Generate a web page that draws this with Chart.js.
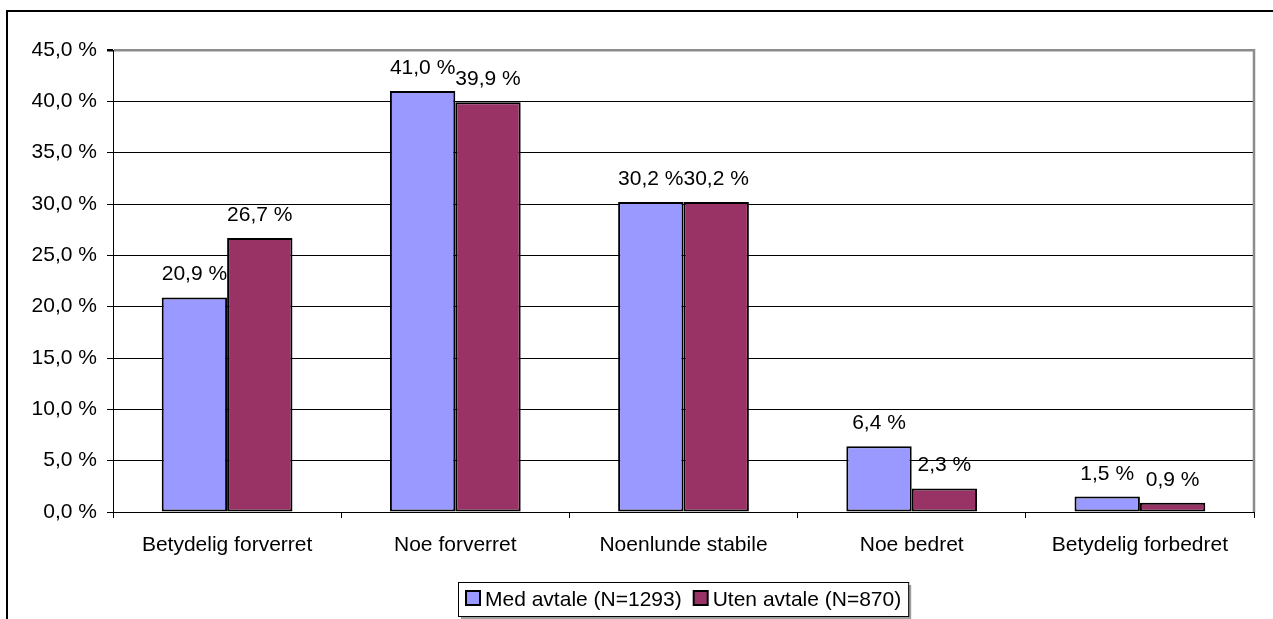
<!DOCTYPE html>
<html>
<head>
<meta charset="utf-8">
<script src="https://cdn.jsdelivr.net/npm/chart.js@4"></script>
<style>
  html, body { margin: 0; padding: 0; background: #fff; }
  canvas { display: block; }
</style>
</head>
<body>
<canvas id="c" width="1273" height="619"></canvas>
<script>
const categories = ['Betydelig forverret', 'Noe forverret', 'Noenlunde stabile', 'Noe bedret', 'Betydelig forbedret'];
const seriesNames = ['Med avtale (N=1293)', 'Uten avtale (N=870)'];
const medAvtale = [20.9, 41.0, 30.2, 6.4, 1.5];
const utenAvtale = [26.7, 39.9, 30.2, 2.3, 0.9];
const seriesColors = ['#9999FF', '#993366'];
const yTicks = [0, 5, 10, 15, 20, 25, 30, 35, 40, 45];

const FONT = '"Liberation Sans", Arial, sans-serif';
const FS = 21;
const fmt = v => v.toFixed(1).replace('.', ',') + ' %';

// Outer frame, plot-area border on the right, value labels, and the boxed legend
const decorations = {
  id: 'decorations',
  beforeDraw(chart) {
    const ctx = chart.ctx;
    ctx.save();
    ctx.fillStyle = '#fff';
    ctx.fillRect(0, 0, chart.width, chart.height);
    ctx.strokeStyle = '#000';
    ctx.lineWidth = 2;
    ctx.strokeRect(7, 11, chart.width + 50, chart.height + 50);
    ctx.restore();
  },
  afterDatasetsDraw(chart) {
    const ctx = chart.ctx;
    const a = chart.chartArea;
    ctx.save();
    // right edge of the plot area
    ctx.strokeStyle = '#8c8c8c';
    ctx.lineWidth = 2.5;
    ctx.beginPath();
    ctx.moveTo(a.right, a.top - 1);
    ctx.lineTo(a.right, a.bottom);
    ctx.stroke();

    // value labels above the bars
    ctx.fillStyle = '#000';
    ctx.font = FS + 'px ' + FONT;
    ctx.textAlign = 'center';
    ctx.textBaseline = 'alphabetic';
    chart.data.datasets.forEach((ds, i) => {
      const meta = chart.getDatasetMeta(i);
      meta.data.forEach((bar, j) => {
        ctx.fillText(fmt(ds.data[j]), bar.x, bar.y - 17);
      });
    });

    // legend
    const box = 16, gapAfterBox = 4, itemGap = 11, padX = 7;
    const widths = chart.data.datasets.map(ds => ctx.measureText(ds.label).width);
    let total = padX * 2;
    widths.forEach((w, i) => { total += box + gapAfterBox + w + (i < widths.length - 1 ? itemGap : 0); });
    const cx = (a.left + a.right) / 2;
    const lx = Math.round(cx - total / 2);
    const ly = 582, lh = 34;
    ctx.fillStyle = '#a0a0a0';
    ctx.fillRect(lx + 3, ly + 3, total, lh);
    ctx.fillStyle = '#fff';
    ctx.fillRect(lx, ly, total, lh);
    ctx.strokeStyle = '#000';
    ctx.lineWidth = 1;
    ctx.strokeRect(lx + 0.5, ly + 0.5, total, lh);
    let x = lx + padX;
    ctx.textAlign = 'left';
    ctx.textBaseline = 'middle';
    chart.data.datasets.forEach((ds, i) => {
      ctx.fillStyle = ds.backgroundColor;
      ctx.fillRect(x + 1, ly + 9, box - 2, box - 2);
      ctx.strokeStyle = '#000';
      ctx.lineWidth = 2;
      ctx.strokeRect(x + 1, ly + 9, box - 2, box - 2);
      ctx.fillStyle = '#000';
      ctx.fillText(ds.label, x + box + gapAfterBox, ly + lh / 2 + 1);
      x += box + gapAfterBox + widths[i] + itemGap;
    });
    ctx.restore();
  }
};

new Chart(document.getElementById('c'), {
  type: 'bar',
  data: {
    labels: categories,
    datasets: [
      { label: seriesNames[0], data: medAvtale, backgroundColor: seriesColors[0], borderColor: '#000', borderWidth: 2, borderSkipped: false },
      { label: seriesNames[1], data: utenAvtale, backgroundColor: seriesColors[1], borderColor: '#000', borderWidth: 2, borderSkipped: false }
    ]
  },
  options: {
    responsive: false,
    animation: false,
    devicePixelRatio: 1,
    layout: { padding: { left: 0, top: 50, right: 19, bottom: 0 } },
    datasets: { bar: { categoryPercentage: 0.573, barPercentage: 1.0 } },
    plugins: { legend: { display: false }, tooltip: { enabled: false } },
    scales: {
      x: {
        grid: { display: true, drawOnChartArea: false, drawTicks: true, tickLength: 6, offset: true, color: '#000', lineWidth: 1 },
        border: { color: '#000', width: 1 },
        ticks: { color: '#000', font: { family: FONT, size: FS }, padding: 15, maxRotation: 0, autoSkip: false },
        afterFit(scale) { scale.height = 107; }
      },
      y: {
        min: 0,
        max: 45,
        afterBuildTicks(scale) { scale.ticks = yTicks.map(v => ({ value: v })); },
        grid: {
          color: c => (c.tick && c.tick.value === 45) ? '#8c8c8c' : '#000',
          lineWidth: c => (c.tick && c.tick.value === 45) ? 2.5 : 1,
          tickColor: '#000',
          tickLength: 6
        },
        border: { color: '#000', width: 1 },
        ticks: { color: '#000', font: { family: FONT, size: FS }, padding: 10, callback: v => fmt(v) },
        afterFit(scale) { scale.width = 113; }
      }
    }
  },
  plugins: [decorations]
});
</script>
</body>
</html>
